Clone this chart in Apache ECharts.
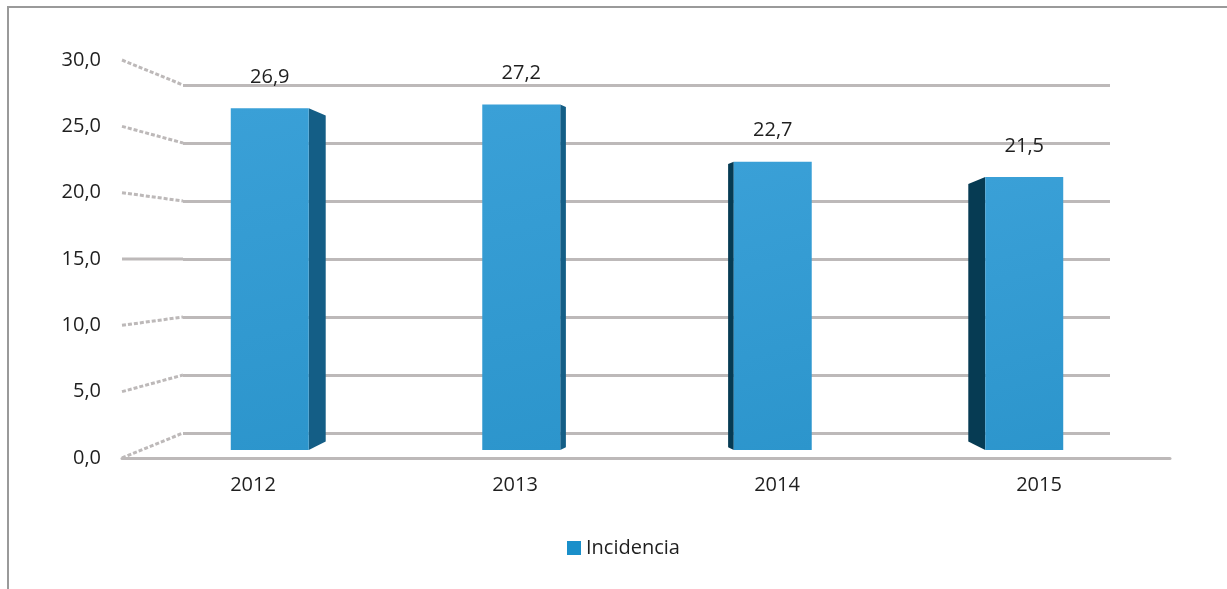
<!DOCTYPE html>
<html>
<head>
<meta charset="utf-8">
<script src="https://cdn.jsdelivr.net/npm/echarts@6/dist/echarts.min.js"></script>
<style>
html,body{margin:0;padding:0;background:#fff;}
#chart{width:1227px;height:589px;}
</style>
</head>
<body>
<div id="chart"></div>
<script>
const categories = ['2012', '2013', '2014', '2015'];
const incidencia = [26.9, 27.2, 22.7, 21.5];
const seriesName = 'Incidencia';
const yMin = 0, yMax = 30, yInterval = 5;
const yTickValues = [0, 5, 10, 15, 20, 25, 30];

const fmt = v => v.toFixed(1).replace('.', ',');
const FONT = '"Open Sans", sans-serif';
const TXT = '#1f1f1f';
const GRID_COL = '#bdb9b9';

const chart = echarts.init(document.getElementById('chart'), null, {renderer: 'canvas'});

function renderBar(params, api) {
  const idx = api.value(0);
  const val = api.value(1);
  const topPt = api.coord([idx, val]);
  const basePt = api.coord([idx, 0]);
  const band = api.size([1, 0])[0];
  const w = band * 0.31;
  const cx = topPt[0];
  const x0 = cx - w / 2, x1 = cx + w / 2;
  const top = topPt[1], bottom = basePt[1];
  const cs = params.coordSys;
  const vx = cs.x + cs.width / 2;
  const dx = 0.045 * (vx - cx);
  const dyT = Math.abs(dx) * 0.42, dyB = Math.abs(dx) * 0.5;
  const ex = dx > 0 ? x1 : x0;
  const sideColor = dx > 0 ? '#145e86' : '#063b53';
  return {
    type: 'group',
    children: [
      {
        type: 'polygon',
        shape: {points: [[ex, top], [ex + dx, top + dyT], [ex + dx, bottom - dyB], [ex, bottom]]},
        style: {fill: sideColor}
      },
      {
        type: 'rect',
        shape: {x: x0, y: top, width: w, height: bottom - top},
        style: {
          fill: new echarts.graphic.LinearGradient(0, 0, 1, 1, [
            {offset: 0, color: '#3aa0d7'},
            {offset: 1, color: '#2c95cc'}
          ]),
          shadowBlur: 3, shadowColor: 'rgba(0,0,0,0.35)'
        }
      },
      {
        type: 'text',
        style: {
          text: fmt(val), x: cx, y: top - 31,
          align: 'center', verticalAlign: 'middle',
          font: '20px ' + FONT, fill: TXT
        }
      }
    ]
  };
}

const option = {
  animation: false,
  backgroundColor: '#ffffff',
  legend: {
    data: [{name: seriesName, icon: 'rect'}],
    left: 567, top: 538, padding: 0,
    itemWidth: 14, itemHeight: 14, itemGap: 5,
    textStyle: {fontFamily: FONT, fontSize: 20, color: TXT}
  },
  grid: [
    {left: 122, right: 57, top: 60, bottom: 131},   // label / floor front
    {left: 183, right: 117, top: 85, bottom: 156},  // back wall
    {left: 144, right: 77, top: 69, bottom: 139}    // bars
  ],
  xAxis: [
    {
      gridIndex: 0, type: 'category', data: categories,
      axisLine: {show: true, lineStyle: {color: GRID_COL, width: 3}},
      axisTick: {show: false},
      axisLabel: {fontFamily: FONT, fontSize: 20, color: TXT, margin: 17}
    },
    {gridIndex: 1, type: 'category', data: categories, show: false},
    {gridIndex: 2, type: 'category', data: categories, show: false}
  ],
  yAxis: [
    {
      gridIndex: 0, type: 'value', min: yMin, max: yMax, interval: yInterval,
      axisLine: {show: false}, axisTick: {show: false}, splitLine: {show: false},
      axisLabel: {fontFamily: FONT, fontSize: 20, color: TXT, margin: 21, formatter: fmt}
    },
    {
      gridIndex: 1, type: 'value', min: yMin, max: yMax, interval: yInterval,
      axisLine: {show: false}, axisTick: {show: false}, axisLabel: {show: false},
      splitLine: {show: true, lineStyle: {color: GRID_COL, width: 3}}
    },
    {
      gridIndex: 2, type: 'value', min: yMin, max: yMax, interval: yInterval,
      show: false, splitLine: {show: false}
    }
  ],
  series: [
    {
      name: seriesName,
      type: 'custom',
      xAxisIndex: 2, yAxisIndex: 2,
      itemStyle: {color: '#1a8fca'},
      renderItem: renderBar,
      data: incidencia.map((v, i) => [i, v]),
      z: 5
    }
  ],
  graphic: [
    {
      type: 'rect', silent: true, z: -10,
      shape: {x: 8, y: 7, width: 1400, height: 800},
      style: {fill: 'none', stroke: '#9a9a9a', lineWidth: 2}
    }
  ]
};

chart.setOption(option);

// perspective connectors from label-axis ticks to back wall gridlines
const model = chart.getModel();
const rectA = model.getComponent('grid', 0).coordinateSystem.getRect();
const rectB = model.getComponent('grid', 1).coordinateSystem.getRect();
const connectors = yTickValues.map(v => {
  const ya = chart.convertToPixel({yAxisIndex: 0}, v);
  const yb = chart.convertToPixel({yAxisIndex: 1}, v);
  return {
    type: 'line', silent: true, z: 1,
    shape: {x1: rectA.x, y1: ya, x2: rectB.x, y2: yb},
    style: {stroke: GRID_COL, lineWidth: 3, lineDash: ya === yb ? null : [4, 2]}
  };
});
chart.setOption({graphic: option.graphic.concat(connectors)});
</script>
</body>
</html>
